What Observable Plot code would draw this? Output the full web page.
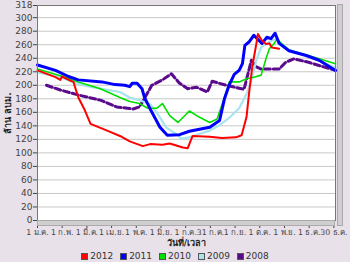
<!DOCTYPE html>
<html><head><meta charset="utf-8">
<script src="https://cdn.jsdelivr.net/npm/d3@7"></script>
<script src="https://cdn.jsdelivr.net/npm/@observablehq/plot@0.6"></script>
<style>
html,body{margin:0;padding:0;background:#e8e1e9;}
#wrap{position:relative;width:350px;height:262px;overflow:hidden;font-family:Tahoma,"DejaVu Sans",sans-serif;}
#legend{position:absolute;left:0;top:251px;width:350px;display:flex;justify-content:center;gap:7px;font-size:9px;color:#333;}
#legend span{display:flex;align-items:center;gap:2px;}
#legend i{display:inline-block;width:5px;height:5px;border:1px solid #555;}
.hbar{position:absolute;left:37px;top:220px;width:298px;height:6px;background:#cfcfcf;border:1px solid #aaa;box-sizing:border-box;}
.vbar{position:absolute;left:337px;top:4px;width:6px;height:222px;background:#cfcfcf;border:1px solid #aaa;box-sizing:border-box;}
</style></head>
<body><div id="wrap"><div id="chart"></div><div class="hbar"></div><div class="vbar"></div><div id="legend"></div></div>
<script>
// day-of-year (0 = 1 Jan) and volume (million m³)
const d2012 = [0,22,28,30,40,44,50,58,65,77,89,101,113,129,138,153,162,178,184,190,211,226,243,250,256,259,263,268,270,275,280,284,287,296];
const v2012 = [222,212,208,213,207,205,182,163,143,137,131,125,117,110,113,112,114,108,107,125,124,122,123,126,153,187,227,261,276,266,261,262,256,254];
const d2011 = [0,22,38,50,79,95,107,113,116,122,128,131,138,150,159,174,186,211,223,229,235,241,247,251,254,259,265,269,275,281,286,291,296,308,329,345,365];
const v2011 = [230,222,213,208,205,201,200,198,203,203,195,182,165,138,126,127,132,138,148,180,201,216,222,232,259,264,274,269,262,271,269,277,262,251,244,237,222];
const d2010 = [0,28,50,77,101,113,125,135,146,153,162,172,186,198,211,220,229,235,247,257,265,274,280,284,290,293,308,332,365];
const v2010 = [224,214,205,195,182,176,173,166,166,173,155,145,162,153,145,150,182,205,205,210,212,215,240,254,262,268,252,244,232];
const d2009 = [0,28,52,77,101,113,125,138,146,158,170,176,186,198,211,223,235,247,256,262,268,274,284,292,308,332,365];
const v2009 = [219,212,201,195,190,182,178,172,160,137,128,121,123,128,133,141,152,166,187,207,237,256,264,269,252,243,226];
const d2008 = [11,28,52,77,97,110,117,125,134,140,153,164,174,184,195,208,214,231,253,262,267,274,296,304,314,332,365];
const v2008 = [200,193,185,178,168,166,165,168,187,200,208,217,203,195,197,190,206,200,194,237,228,224,224,234,239,234,222];

const years = ["2012","2011","2010","2009","2008"];
const colors = ["#ff0000","#0000ff","#00e000","#a8e4ec","#5a0a8c"];
const tickDays = d3.range(13).map(k => k * 30.25);
const tickLabels = ["1 ม.ค.","1 ก.พ.","1 มี.ค.","1 เม.ย.","1 พ.ค.","1 มิ.ย.","1 ก.ค.","31 ก.ค.","1 ก.ย.","1 ต.ค.","1 พ.ย.","1 ธ.ค.","30 ธ.ค."];
const yTicks = [0,20,40,60,80,100,120,140,160,180,200,220,240,260,280,300,318];

const toRows = (ds, vs) => ds.map((d, i) => ({day: d, v: vs[i]}));
const s2012 = toRows(d2012, v2012), s2011 = toRows(d2011, v2011), s2010 = toRows(d2010, v2010),
      s2009 = toRows(d2009, v2009), s2008 = toRows(d2008, v2008);

const chart = Plot.plot({
  width: 350, height: 251,
  marginLeft: 37, marginRight: 15, marginTop: 5, marginBottom: 31,
  style: {fontFamily: 'Tahoma,"DejaVu Sans",sans-serif', fontSize: "9px", color: "#444", background: "transparent"},
  x: {domain: [0, 365]},
  y: {domain: [0, 318]},
  marks: [
    Plot.frame({fill: "white"}),
    Plot.gridY(yTicks.slice(1, -1), {stroke: "#c8c8c8", strokeOpacity: 1}),
    Plot.line(s2008, {x: "day", y: "v", stroke: colors[4], strokeWidth: 3, strokeDasharray: "6,3"}),
    Plot.line(s2009, {x: "day", y: "v", stroke: colors[3], strokeWidth: 2.2}),
    Plot.line(s2010, {x: "day", y: "v", stroke: colors[2], strokeWidth: 1.6}),
    Plot.line(s2011, {x: "day", y: "v", stroke: colors[1], strokeWidth: 3}),
    Plot.line(s2012, {x: "day", y: "v", stroke: colors[0], strokeWidth: 2}),
    Plot.frame({stroke: "#777"}),
    Plot.axisY(yTicks, {tickSize: 4, tickPadding: 1, label: "ล้าน ลบม.", labelAnchor: "center", labelArrow: "none", labelOffset: 33, fontSize: 9}),
    Plot.axisX(tickDays, {tickFormat: (d, i) => tickLabels[i], tickSize: 3, dy: 5, tickPadding: 1, fontSize: 7.8, label: null}),
    Plot.text(["วันที่/เวลา"], {frameAnchor: "bottom", dy: 25, fontWeight: "bold", fontSize: 9, fill: "#222"})
  ]
});
document.getElementById("chart").appendChild(chart);
d3.select(chart).selectAll("[aria-label='y-axis label'] text").attr("font-weight", "bold").attr("fill", "#222");

const lg = document.getElementById("legend");
years.forEach((y, i) => {
  const s = document.createElement("span");
  s.innerHTML = `<i style="background:${colors[i]}"></i>${y}`;
  lg.appendChild(s);
});
</script></body></html>
